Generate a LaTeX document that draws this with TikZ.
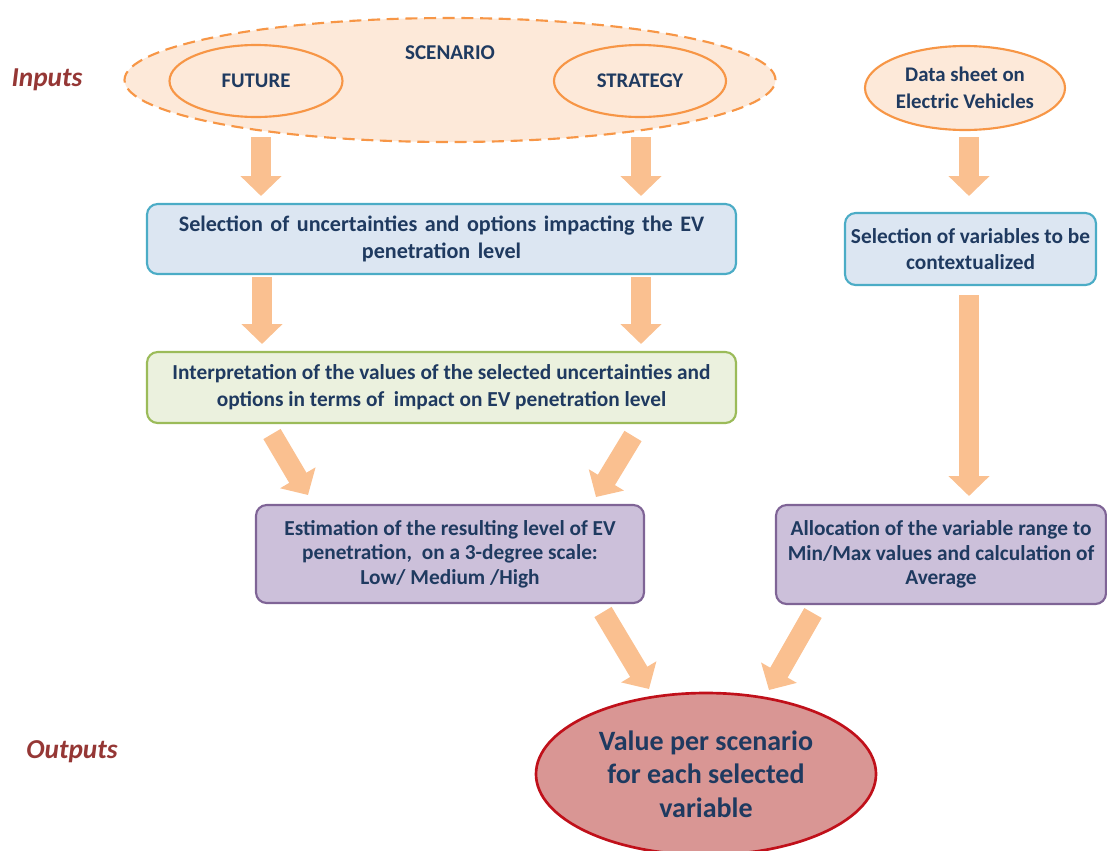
\documentclass[tikz,border=0pt]{standalone}
\usepackage{fontspec}
\setmainfont{Carlito}
\usetikzlibrary{shapes.geometric,arrows.meta}
\definecolor{txt}{HTML}{1F3A60}
\definecolor{peach}{HTML}{FDE9D9}
\definecolor{orng}{HTML}{F79646}
\definecolor{arrc}{HTML}{FAC090}
\definecolor{bluef}{HTML}{DCE6F2}
\definecolor{blued}{HTML}{4BACC6}
\definecolor{greenf}{HTML}{EBF1DE}
\definecolor{greend}{HTML}{9BBB59}
\definecolor{purf}{HTML}{CCC0DA}
\definecolor{purd}{HTML}{7F6496}
\definecolor{redf}{HTML}{D99694}
\definecolor{redd}{HTML}{C0101A}
\definecolor{lab}{HTML}{953735}
\newfontfamily\widesp[WordSpace=1.5]{Carlito}
\tikzset{
  boxnode/.style={draw, rounded corners=8pt, line width=1.6pt, align=center, text=txt,
     font=\bfseries\fontsize{16}{20}\selectfont, inner sep=0pt},
  ellnode/.style={ellipse, draw=orng, line width=1.6pt, align=center, text=txt,
     font=\bfseries\fontsize{15.6}{20}\selectfont, inner sep=0pt},
  blk/.style={draw=arrc, line width=15pt, -{Triangle[width=30pt,length=15pt]}},
  sidelab/.style={text=lab, font=\bfseries\itshape\fontsize{20.5}{24}\selectfont}
}
\begin{document}
\begin{tikzpicture}[x=0.75pt,y=-0.75pt]
\useasboundingbox (0,0) rectangle (1107,850);
\begin{scope}
\clip (0,0) rectangle (1107,850);
% inputs
\node[ellnode, dashed, dash pattern=on 9pt off 5pt, fill=peach, minimum width={651*0.75pt}, minimum height={124*0.75pt}] (scen) at (450,80) {};
\node[text=txt, font=\bfseries\fontsize{15.8}{18}\selectfont] (scent) at (450,53) {SCENARIO};
\node[ellnode, minimum width={173*0.75pt}, minimum height={72*0.75pt}] (fut) at (256,81) {FUTURE};
\node[ellnode, minimum width={172*0.75pt}, minimum height={72*0.75pt}] (str) at (640,81) {STRATEGY};
\node[ellnode, fill=peach, minimum width={200*0.75pt}, minimum height={84*0.75pt}] (data) at (965,88) {Data sheet on\\Electric Vehicles};
% boxes
\node[boxnode, draw=blued, fill=bluef, minimum width={589*0.75pt}, minimum height={70*0.75pt},
  font=\widesp\bfseries\fontsize{16.6}{20}\selectfont] (sel) at (441.5,239)
  {Selection of uncertainties and options impacting the EV\\penetration level};
\node[boxnode, draw=blued, fill=bluef, minimum width={251*0.75pt}, minimum height={72*0.75pt}] (selv) at (970.5,249)
  {Selection of variables to be\\contextualized};
\node[boxnode, draw=greend, fill=greenf, minimum width={589*0.75pt}, minimum height={71*0.75pt}] (interp) at (441.5,387.5)
  {Interpretation of the values of the selected uncertainties and\\options in terms of\ \ impact on EV penetration level};
\node[boxnode, draw=purd, fill=purf, minimum width={388*0.75pt}, minimum height={98*0.75pt},
  font=\bfseries\fontsize{16}{18.5}\selectfont] (est) at (450,554)
  {Estimation of the resulting level of EV\\penetration,\ \ on a 3-degree scale:\\Low/ Medium /High};
\node[boxnode, draw=purd, fill=purf, minimum width={330*0.75pt}, minimum height={99*0.75pt},
  font=\bfseries\fontsize{16}{18.5}\selectfont] (alloc) at (941,554.5)
  {Allocation of the variable range to\\Min/Max values and calculation of\\Average};
% output
\node[ellnode, draw=redd, fill=redf, line width=2pt, minimum width={340*0.75pt}, minimum height={162*0.75pt},
  font=\bfseries\fontsize{21}{25}\selectfont] (out) at (706,774)
  {Value per scenario\\for each selected\\variable};
% labels
\node[sidelab] (inl) at (47,80) {Inputs};
\node[sidelab] (outl) at (72,752) {Outputs};
% arrow end points
\coordinate (a1s) at (261,137); \coordinate (a1e) at (261,196);
\coordinate (a2s) at (641,137); \coordinate (a2e) at (641,196);
\coordinate (a3s) at (969,137); \coordinate (a3e) at (969,196);
\coordinate (a4s) at (262,277); \coordinate (a4e) at (262,344);
\coordinate (a5s) at (641,277); \coordinate (a5e) at (641,344);
\coordinate (a6s) at (969,295); \coordinate (a6e) at (969,496);
\coordinate (a7s) at (272,434); \coordinate (a7e) at (308,495);
\coordinate (a8s) at (633,436); \coordinate (a8e) at (596,497);
\coordinate (a9s) at (603,612); \coordinate (a9e) at (649,689);
\coordinate (a10s) at (813,613); \coordinate (a10e) at (769,690);
\draw[blk] (a1s) -- (a1e);
\draw[blk] (a2s) -- (a2e);
\draw[blk] (a3s) -- (a3e);
\draw[blk] (a4s) -- (a4e);
\draw[blk] (a5s) -- (a5e);
\draw[blk] (a6s) -- (a6e);
\draw[blk] (a7s) -- (a7e);
\draw[blk] (a8s) -- (a8e);
\draw[blk] (a9s) -- (a9e);
\draw[blk] (a10s) -- (a10e);
\end{scope}
\end{tikzpicture}
\end{document}
